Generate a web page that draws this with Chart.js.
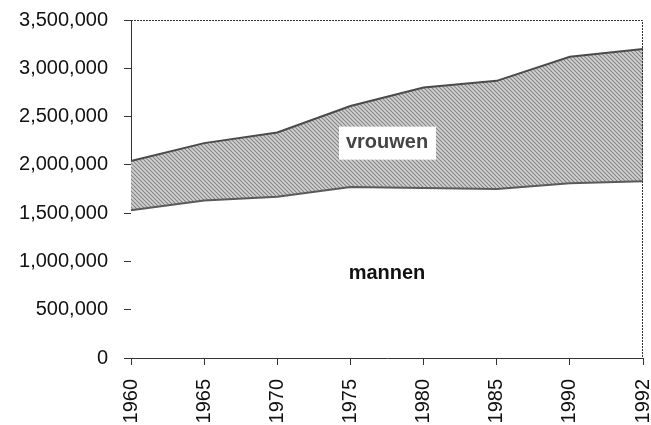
<!DOCTYPE html>
<html>
<head>
<meta charset="utf-8">
<script src="https://cdn.jsdelivr.net/npm/chart.js@4/dist/chart.umd.min.js"></script>
<style>
  html, body { margin: 0; padding: 0; background: #fff; }
  #wrap { width: 651px; height: 425px; position: relative; }
</style>
</head>
<body>
<div id="wrap"><canvas id="c" width="651" height="425"></canvas></div>
<script>
// ---- data ----
const years = ['1960', '1965', '1970', '1975', '1980', '1985', '1990', '1992'];
const mannen = [1530000, 1630000, 1670000, 1770000, 1760000, 1750000, 1810000, 1830000];
const vrouwen = [510000, 595000, 665000, 840000, 1040000, 1120000, 1310000, 1370000]; // stacked on mannen
const yTicks = [0, 500000, 1000000, 1500000, 2000000, 2500000, 3000000, 3500000];
const seriesLabels = ['mannen', 'vrouwen'];

// hatch pattern
function makeHatch() {
  const s = 4;
  const pc = document.createElement('canvas');
  pc.width = s; pc.height = s;
  const g = pc.getContext('2d');
  g.fillStyle = '#d2d2d2';
  g.fillRect(0, 0, s, s);
  g.strokeStyle = '#858585';
  g.lineWidth = 1.1;
  g.beginPath();
  g.moveTo(-1, -1); g.lineTo(s + 1, s + 1);
  g.moveTo(-1, s - 1); g.lineTo(1, s + 1);
  g.moveTo(s - 1, -1); g.lineTo(s + 1, 1);
  g.stroke();
  return document.getElementById('c').getContext('2d').createPattern(pc, 'repeat');
}

const FONT = '"Liberation Sans", Arial, Helvetica, sans-serif';

const framePlugin = {
  id: 'frame',
  afterDatasetsDraw(chart) {
    const { ctx, chartArea: a, scales } = chart;
    ctx.save();
    // dotted top & right border
    ctx.strokeStyle = '#333';
    ctx.lineWidth = 1;
    ctx.setLineDash([2, 1]);
    ctx.beginPath();
    ctx.moveTo(a.left, a.top + 0.5);
    ctx.lineTo(a.right - 0.5, a.top + 0.5);
    ctx.lineTo(a.right - 0.5, a.bottom);
    ctx.stroke();
    ctx.setLineDash([]);

    // series labels
    const xs = scales.x, ys = scales.y;
    ctx.font = 'bold 20px ' + FONT;
    ctx.textAlign = 'center';
    ctx.textBaseline = 'middle';
    // vrouwen with white box
    const vx = xs.getPixelForValue(3.5), vy = ys.getPixelForValue(2230000);
    ctx.fillStyle = '#fff';
    ctx.fillRect(vx - 48, vy - 16, 97, 33);
    ctx.fillStyle = '#444';
    ctx.fillText(seriesLabels[1], vx, vy);
    // mannen
    const mx = xs.getPixelForValue(3.5), my = ys.getPixelForValue(880000);
    ctx.fillStyle = '#111';
    ctx.fillText(seriesLabels[0], mx, my);
    ctx.restore();
  }
};

const chart = new Chart(document.getElementById('c'), {
  type: 'line',
  data: {
    labels: years,
    datasets: [
      {
        label: seriesLabels[0],
        data: mannen,
        fill: 'origin',
        backgroundColor: '#ffffff',
        borderColor: '#5a5a5a',
        borderWidth: 2,
        pointRadius: 0,
        tension: 0
      },
      {
        label: seriesLabels[1],
        data: vrouwen,
        fill: '-1',
        backgroundColor: makeHatch(),
        borderColor: '#4a4a4a',
        borderWidth: 2,
        pointRadius: 0,
        tension: 0
      }
    ]
  },
  options: {
    responsive: false,
    animation: false,
    devicePixelRatio: 1,
    layout: { padding: { top: 20, right: 8, left: 0, bottom: 0 } },
    plugins: { legend: { display: false }, tooltip: { enabled: false } },
    scales: {
      x: {
        offset: false,
        grid: { drawOnChartArea: false, drawTicks: true, tickLength: 7, color: '#333' },
        border: { color: '#333', width: 1 },
        ticks: {
          minRotation: 90, maxRotation: 90, autoSkip: false,
          padding: 14,
          color: '#111',
          font: { family: FONT, size: 20 }
        },
        afterFit(s) { s.height = 67; s.paddingLeft = 0; s.paddingRight = 0; }
      },
      y: {
        stacked: true,
        min: 0, max: 3500000,
        afterBuildTicks(s) { s.ticks = yTicks.map(v => ({ value: v })); },
        grid: { drawOnChartArea: false, drawTicks: true, tickLength: 7, color: '#333' },
        border: { color: '#333', width: 1 },
        ticks: {
          padding: 16,
          color: '#111',
          font: { family: FONT, size: 20 },
          callback: v => Number(v).toLocaleString('en-US')
        },
        afterFit(s) { s.width = 131; s.paddingTop = 0; s.paddingBottom = 0; }
      }
    }
  },
  plugins: [framePlugin]
});
</script>
</body>
</html>
